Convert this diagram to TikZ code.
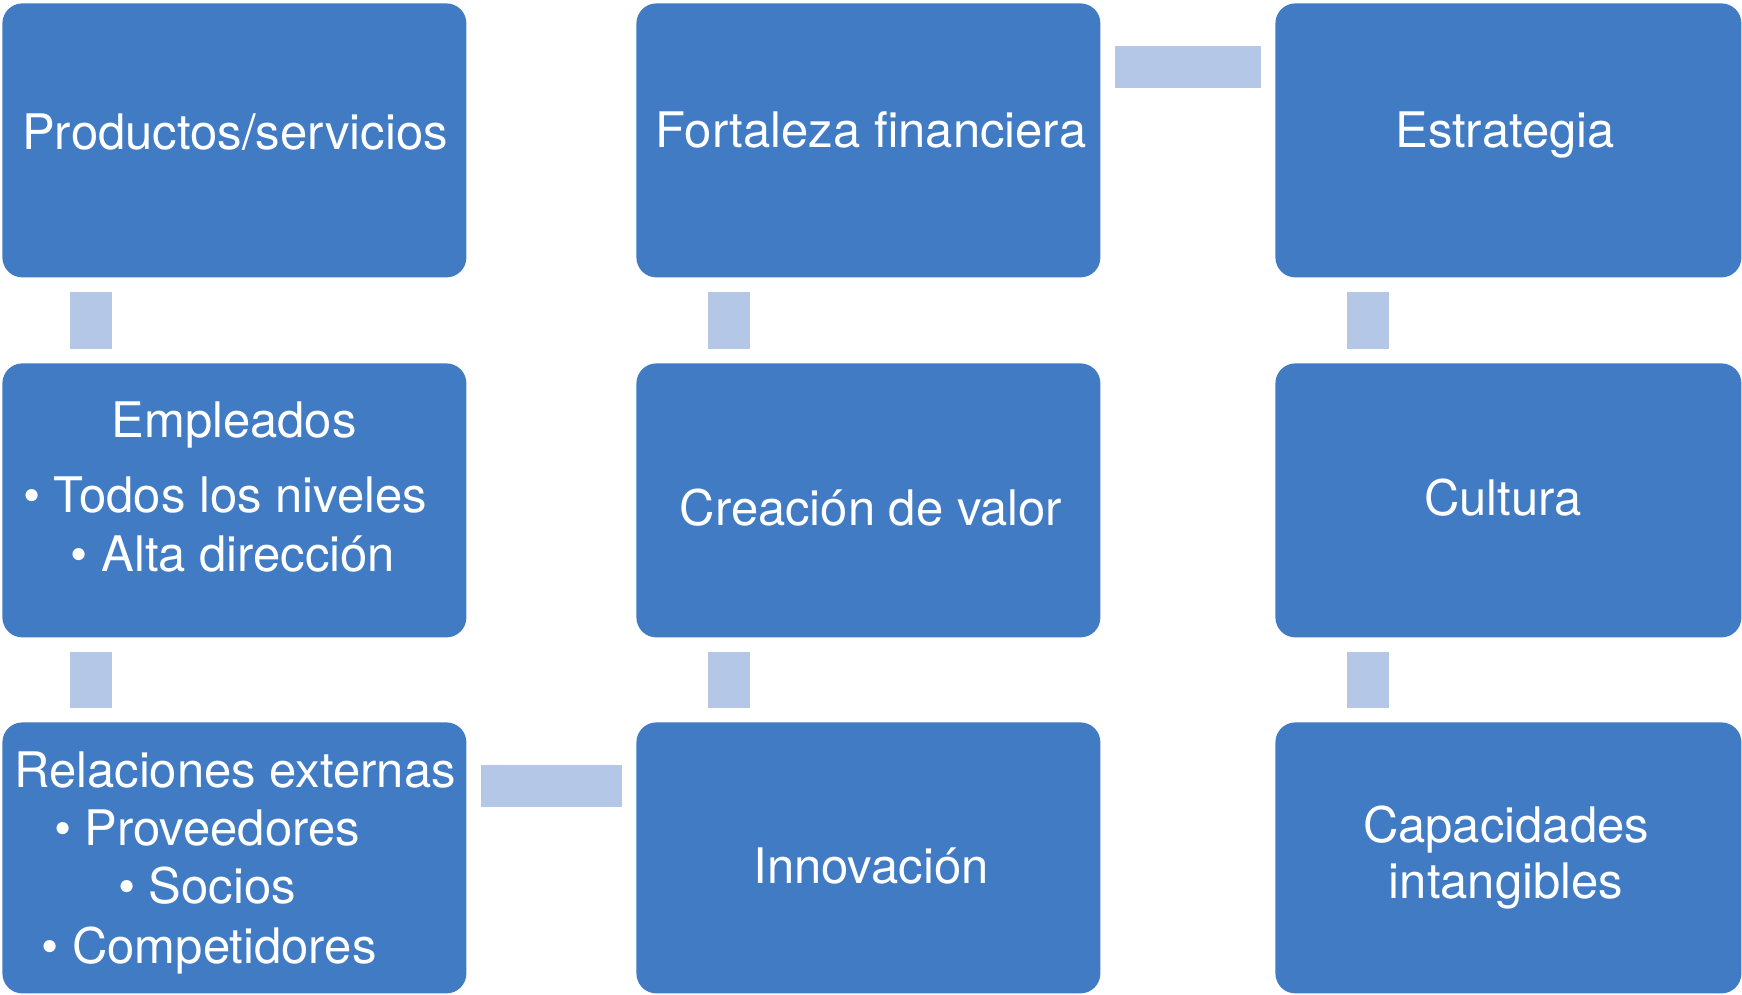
\documentclass[tikz,border=0pt]{standalone}
\usepackage{fontspec}
\setmainfont{TeX Gyre Heros}
\definecolor{boxblue}{RGB}{65,123,196}
\definecolor{connblue}{RGB}{180,199,231}
\begin{document}
\begin{tikzpicture}[x=0.5pt,y=-0.5pt,
  box/.style={draw=none,fill=boxblue,rounded corners=10pt,minimum width=232pt,minimum height=137pt,inner sep=0pt,anchor=north west},
  txt/.style={text=white,font=\fontsize{24.5}{28}\selectfont,inner sep=0pt,anchor=base},
  conn/.style={draw=connblue,line width=21pt,shorten >=7pt,shorten <=7pt}]
\useasboundingbox (0,0) rectangle (1742,995);
% boxes
\node[box] (b11) at (2,3) {};
\node[box] (b12) at (636,3) {};
\node[box,minimum width=233pt] (b13) at (1275,3) {};
\node[box] (b21) at (2,363) {};
\node[box] (b22) at (636,363) {};
\node[box,minimum width=233pt] (b23) at (1275,363) {};
\node[box,minimum height=135.5pt] (b31) at (2,722) {};
\node[box,minimum height=135.5pt] (b32) at (636,722) {};
\node[box,minimum height=135.5pt,minimum width=233pt] (b33) at (1275,722) {};
% connectors
\coordinate (cx1) at (91,0);
\coordinate (cx2) at (729,0);
\coordinate (cx3) at (1368,0);
\coordinate (hy1) at (0,67.5);
\coordinate (hy2) at (0,785.5);
\draw[conn] (b11.south -| cx1) -- (b21.north -| cx1);
\draw[conn] (b21.south -| cx1) -- (b31.north -| cx1);
\draw[conn] (b12.south -| cx2) -- (b22.north -| cx2);
\draw[conn] (b22.south -| cx2) -- (b32.north -| cx2);
\draw[conn] (b13.south -| cx3) -- (b23.north -| cx3);
\draw[conn] (b23.south -| cx3) -- (b33.north -| cx3);
\draw[conn] (b12.east |- hy1) -- (b13.west |- hy1);
\draw[conn] (b31.east |- hy2) -- (b32.west |- hy2);
% texts
\node[txt] (t11) at (235,150) {Productos/servicios};
\node[txt] (t12) at (871,148) {Fortaleza financiera};
\node[txt] (t13) at (1505,148) {Estrategia};
\node[txt] (t21a) at (234,437) {Empleados};
\node[txt] (t21b) at (225,512) {• Todos los niveles};
\node[txt] (t21c) at (233,571) {• Alta dirección};
\node[txt] (t22) at (871,525) {Creación de valor};
\node[txt] (t23) at (1503,515) {Cultura};
\node[txt] (t31a) at (235,787) {Relaciones externas};
\node[txt] (t31b) at (207,845) {• Proveedores};
\node[txt] (t31c) at (207,903) {• Socios};
\node[txt] (t31d) at (209,963) {• Competidores};
\node[txt] (t32) at (871,883) {Innovación};
\node[txt] (t33a) at (1506,842) {Capacidades};
\node[txt] (t33b) at (1506,898) {intangibles};
\end{tikzpicture}
\end{document}
